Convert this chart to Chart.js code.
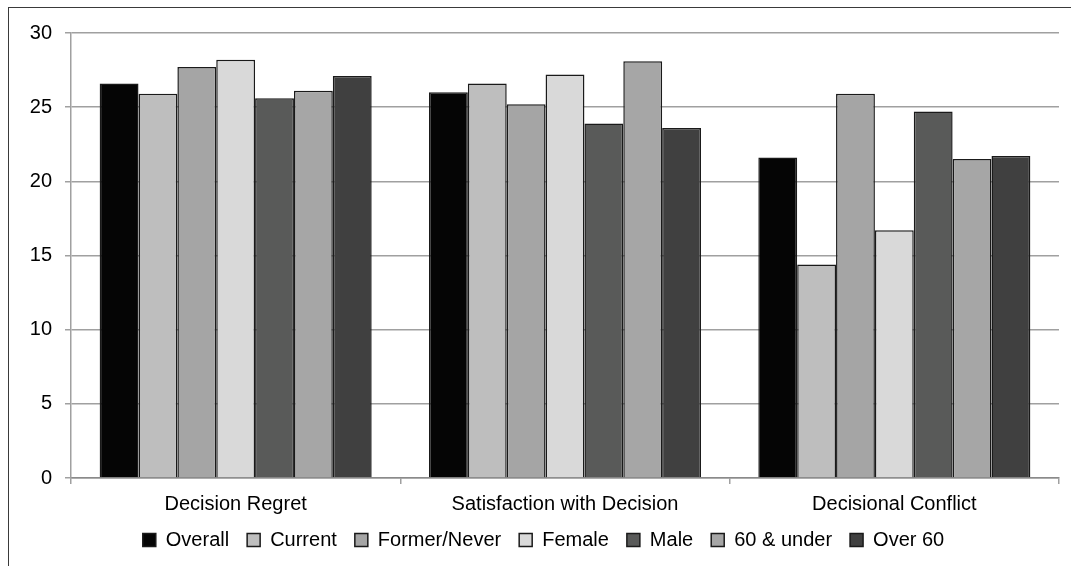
<!DOCTYPE html>
<html>
<head>
<meta charset="utf-8">
<script src="https://cdn.jsdelivr.net/npm/chart.js@4"></script>
<style>
  html, body { margin: 0; padding: 0; background: #fff; overflow: hidden; }
  #wrap { position: absolute; left: 0; top: 0; width: 1071px; height: 566px; }
  #frame { position: absolute; left: 8px; top: 7px; right: 0; bottom: 0;
           border-left: 1.5px solid #3a3a3a; border-top: 1.5px solid #3a3a3a; pointer-events: none; }
</style>
</head>
<body>
<div id="wrap"><canvas id="resultChart"></canvas></div>
<div id="frame"></div>
<script>
// categories and series
const categories = ['Decision Regret', 'Satisfaction with Decision', 'Decisional Conflict'];
const seriesNames = ['Overall', 'Current', 'Former/Never', 'Female', 'Male', '60 & under', 'Over 60'];

const overall     = [26.6, 26.0, 21.6];
const current     = [25.9, 26.6, 14.4];
const formerNever = [27.7, 25.2, 25.9];
const female      = [28.2, 27.2, 16.7];
const male        = [25.6, 23.9, 24.7];
const under60     = [26.1, 28.1, 21.5];
const over60      = [27.1, 23.6, 21.7];

const yMin = 0, yMax = 30, yStep = 5;

const seriesValues = [overall, current, formerNever, female, male, under60, over60];
const seriesColors = ['#050505', '#bebebe', '#a5a5a5', '#d9d9d9', '#595a59', '#a6a6a6', '#404040'];

LoadResultChart();

function LoadResultChart() {
    const ctx = document.getElementById('resultChart').getContext('2d');
    Chart.defaults.font.family = '"Liberation Sans", Arial, sans-serif';
    Chart.defaults.color = '#000';

    // nudge the legend a few pixels up, closer to the axis labels
    const legendNudge = {
        id: 'legendNudge',
        afterLayout: function (chart) {
            if (chart.legend) {
                chart.legend.top -= 4;
                chart.legend.bottom -= 4;
            }
        }
    };

    new Chart(ctx, {
        type: 'bar',
        data: {
            labels: categories,
            datasets: seriesNames.map(function (name, i) {
                return {
                    label: name,
                    data: seriesValues[i],
                    backgroundColor: seriesColors[i],
                    borderColor: '#1a1a1a',
                    borderWidth: 1.5,
                    categoryPercentage: 0.826,
                    barPercentage: 1.0
                };
            })
        },
        options: {
            responsive: true,
            maintainAspectRatio: false,
            animation: false,
            layout: { padding: { left: 28, right: 12, top: 33, bottom: 2 } },
            scales: {
                x: {
                    grid: { drawOnChartArea: false, drawTicks: true, tickLength: 6, color: '#a0a0a0', lineWidth: 1.5 },
                    border: { color: '#8a8a8a', width: 1.5 },
                    ticks: { font: { size: 20 }, padding: 8, color: '#000' },
                    afterFit: function (scale) { scale.height = 38; }
                },
                y: {
                    min: yMin,
                    max: yMax,
                    ticks: { stepSize: yStep, font: { size: 20 }, padding: 13, color: '#000' },
                    grid: { color: '#a0a0a0', lineWidth: 1.5, tickLength: 6 },
                    border: { color: '#a0a0a0', width: 1.5 },
                    afterFit: function (scale) { scale.width = 43; }
                }
            },
            plugins: {
                legend: {
                    position: 'bottom',
                    labels: { boxWidth: 13, boxHeight: 13, padding: 18, font: { size: 20 }, color: '#000' }
                },
                tooltip: { enabled: false }
            }
        },
        plugins: [legendNudge]
    });
}
</script>
</body>
</html>
